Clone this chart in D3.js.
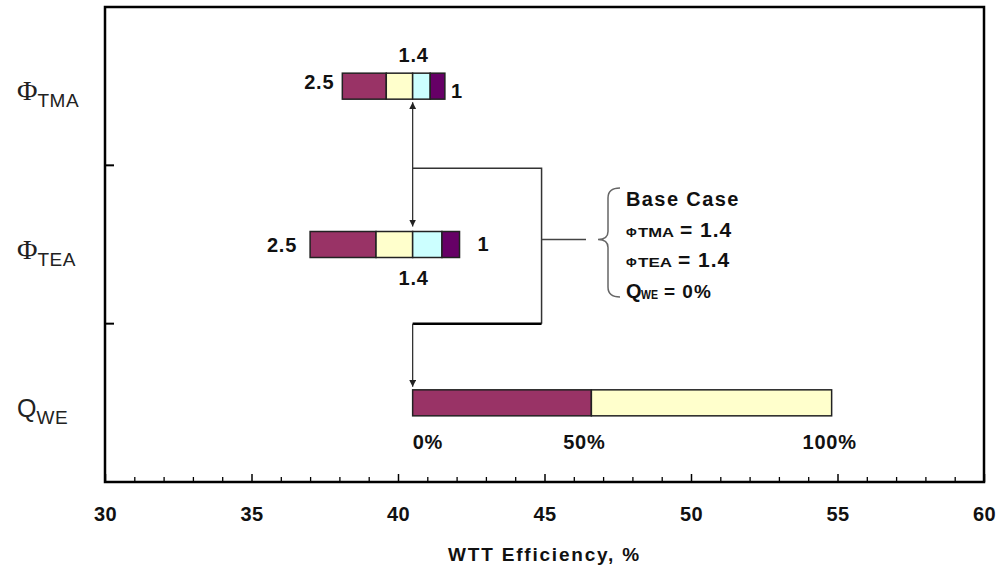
<!DOCTYPE html>
<html><head><meta charset="utf-8">
<script src="https://cdn.jsdelivr.net/npm/d3@7"></script>
<style>
html,body{margin:0;padding:0;background:#fff;}
text{font-family:"Liberation Sans",Arial,sans-serif;}
</style></head>
<body><svg id="chart" width="998" height="566"></svg>
<script>
// ---------- data ----------
const categories = ["TMA", "TEA", "QWE"];
const xDomain = [30, 60];
const majorTicks = [30, 35, 40, 45, 50, 55, 60];
const minorTicks = [31,32,33,34,36,37,38,39,41,42,43,44,46,47,48,49,51,52,53,54,56,57,58,59];
// segment boundaries (WTT efficiency, %)
const tmaBounds = [38.1, 39.6, 40.5, 41.1, 41.6];
const teaBounds = [37.0, 39.25, 40.5, 41.5, 42.1];
const qweBounds = [40.5, 46.6, 54.8];
const segColors = ["#993366", "#FFFFCC", "#CCFFFF", "#660066"];
const baseCase = 40.5;
const connectorX = 44.9;
const xTitle = "WTT Efficiency, %";
const tmaLabels = ["2.5", "1.4", "1"];
const teaLabels = ["2.5", "1.4", "1"];
const qweLabels = ["0%", "50%", "100%"];

// ---------- layout ----------
const svg = d3.select("#chart");
const L = 105, R = 984, T = 7, B = 482;
const x = d3.scaleLinear().domain(xDomain).range([L, R]);
const y = d3.scaleBand().domain(categories).range([T, B]);
const barH = 26;
const bTop = c => y(c) + y.bandwidth()/2 - barH/2;

// arrow marker
const defs = svg.append("defs");
defs.append("marker").attr("id","arr").attr("viewBox","0 0 10 10")
  .attr("refX",10).attr("refY",5).attr("markerWidth",7).attr("markerHeight",7)
  .attr("markerUnits","userSpaceOnUse").attr("orient","auto-start-reverse")
  .append("path").attr("d","M0,0 L10,5 L0,10 Z").attr("fill","#222");

// bottom axis
const gx = svg.append("g").attr("transform",`translate(0,${B})`);
gx.call(d3.axisBottom(x).tickValues(majorTicks).tickSize(-8).tickPadding(25).tickFormat(d3.format("d")));
gx.select(".domain").remove();
gx.selectAll(".tick line").attr("stroke","#000").attr("stroke-width",1.5);
gx.selectAll(".tick text").attr("font-size",20).attr("font-weight","bold")
  .attr("letter-spacing",0.5).attr("fill","#111");
const gm = svg.append("g").attr("transform",`translate(0,${B})`);
gm.call(d3.axisBottom(x).tickValues(minorTicks).tickSize(-5).tickFormat(""));
gm.select(".domain").remove();
gm.selectAll(".tick line").attr("stroke","#000").attr("stroke-width",1.3);

// left separator ticks
svg.selectAll(".ysep").data(categories.slice(0,2)).join("line")
  .attr("x1",L).attr("x2",L+9)
  .attr("y1",c=>y(c)+y.bandwidth()).attr("y2",c=>y(c)+y.bandwidth())
  .attr("stroke","#000").attr("stroke-width",2);

// frame
svg.append("rect").attr("x",L).attr("y",T).attr("width",R-L).attr("height",B-T)
  .attr("fill","none").attr("stroke","#000").attr("stroke-width",2.5);

// x title
svg.append("text").attr("x",(x(30)+x(60))/2).attr("y",561).attr("text-anchor","middle")
  .attr("font-size",19).attr("font-weight","bold").attr("letter-spacing",1.8).attr("fill","#111")
  .text(xTitle);

// y labels
function yLabel(c, main, sub, serif) {
  const cy = y(c) + y.bandwidth()/2;
  const t = svg.append("text").attr("x",17).attr("y",cy+14).attr("fill","#222");
  t.append("tspan").attr("font-size", serif ? 28 : 25)
   .attr("font-family", serif ? "'Liberation Serif','Times New Roman',serif" : null).text(main);
  t.append("tspan").attr("font-size",19).attr("dy",7).attr("letter-spacing",0.5).text(sub);
}
yLabel("TMA","\u03A6","TMA",true);
yLabel("TEA","\u03A6","TEA",true);
yLabel("QWE","Q","WE",false);

// stacked segments
function segs(c, bounds) {
  const d = d3.pairs(bounds).map((p,i)=>({a:p[0],b:p[1],i}));
  svg.append("g").selectAll("rect").data(d).join("rect")
    .attr("x",s=>x(s.a)).attr("width",s=>x(s.b)-x(s.a))
    .attr("y",bTop(c)).attr("height",barH)
    .attr("fill",s=>segColors[s.i]).attr("stroke","#222").attr("stroke-width",1.5);
}
segs("TMA", tmaBounds);
segs("TEA", teaBounds);
segs("QWE", qweBounds);

function lbl(tx, ty, s, anchor, size) {
  svg.append("text").attr("x",tx).attr("y",ty).attr("text-anchor",anchor||"middle")
    .attr("font-size",size||20).attr("font-weight","bold").attr("fill","#111")
    .attr("letter-spacing",0.8).text(s);
}
// TMA labels
const tT = bTop("TMA");
lbl(x(tmaBounds[0])-8, tT+16, tmaLabels[0], "end");
lbl(x(baseCase)+1, tT-11, tmaLabels[1], "middle");
lbl(x(tmaBounds[4])+6, tT+25, tmaLabels[2], "start");
// TEA labels
const eT = bTop("TEA");
lbl(x(teaBounds[0])-13, eT+20, teaLabels[0], "end");
lbl(x(baseCase)+1, eT+53, teaLabels[1], "middle");
lbl(x(teaBounds[4])+18, eT+19, teaLabels[2], "start");
// QWE labels
const qT = bTop("QWE");
lbl(x(qweBounds[0]), qT+59, qweLabels[0], "start");
lbl(x(qweBounds[1])-7, qT+59, qweLabels[1], "middle");
lbl(x(qweBounds[2])-2, qT+59, qweLabels[2], "middle");

// connectors
const xb = x(baseCase), xc = x(connectorX);
svg.append("line").attr("x1",xb).attr("x2",xb)
  .attr("y1",tT+barH+3).attr("y2",eT-5)
  .attr("stroke","#333").attr("stroke-width",1.3)
  .attr("marker-start","url(#arr)").attr("marker-end","url(#arr)");
const y1 = y("TEA") + 3, y2 = y("QWE");
svg.append("path").attr("d",`M${xb},${y1} H${xc} V${y2}`)
  .attr("fill","none").attr("stroke","#333").attr("stroke-width",1.5);
svg.append("path").attr("d",`M${xc},${y2} H${xb}`)
  .attr("fill","none").attr("stroke","#000").attr("stroke-width",2.5);
svg.append("line").attr("x1",xb).attr("x2",xb).attr("y1",y2).attr("y2",qT-3)
  .attr("stroke","#333").attr("stroke-width",1.3).attr("marker-end","url(#arr)");

// line to brace
const by = eT + barH/2 - 5;
svg.append("line").attr("x1",xc).attr("x2",586).attr("y1",by).attr("y2",by)
  .attr("stroke","#444").attr("stroke-width",1.3);
// brace
const bx = 598, bt = 188, bb = 297;
svg.append("path")
  .attr("d",`M${bx+22},${bt} Q${bx+10},${bt} ${bx+10},${bt+10} V${by-8} Q${bx+10},${by} ${bx},${by} Q${bx+10},${by} ${bx+10},${by+8} V${bb-10} Q${bx+10},${bb} ${bx+22},${bb}`)
  .attr("fill","none").attr("stroke","#666").attr("stroke-width",1.5);

// base case block
const tx0 = 626;
svg.append("text").attr("x",tx0).attr("y",206).attr("font-size",20).attr("font-weight","bold")
  .attr("letter-spacing",1.4).attr("fill","#111").text("Base Case");
function bcLine(yy, sym, sub, rest, big, subW) {
  const symSize = big ? 20 : 13;
  const subX = tx0 + (big ? 15 : 12);
  svg.append("text").attr("x",tx0).attr("y",yy).attr("font-size",symSize).attr("font-weight","bold")
    .attr("fill","#111").text(sym);
  svg.append("text").attr("x",subX).attr("y",yy+(big?1:0)).attr("font-size",12).attr("font-weight","bold")
    .attr("fill","#111").attr("textLength",subW).attr("lengthAdjust","spacingAndGlyphs").text(sub);
  svg.append("text").attr("x",subX + subW + 6).attr("y",yy).attr("font-size",big?19:21)
    .attr("font-weight","bold").attr("letter-spacing",1).attr("fill","#111").text(rest);
}
bcLine(237, "\u03A6", "TMA", "= 1.4", false, 36);
bcLine(267, "\u03A6", "TEA", "= 1.4", false, 34);
bcLine(298, "Q", "WE", "= 0%", true, 17);
</script></body></html>
